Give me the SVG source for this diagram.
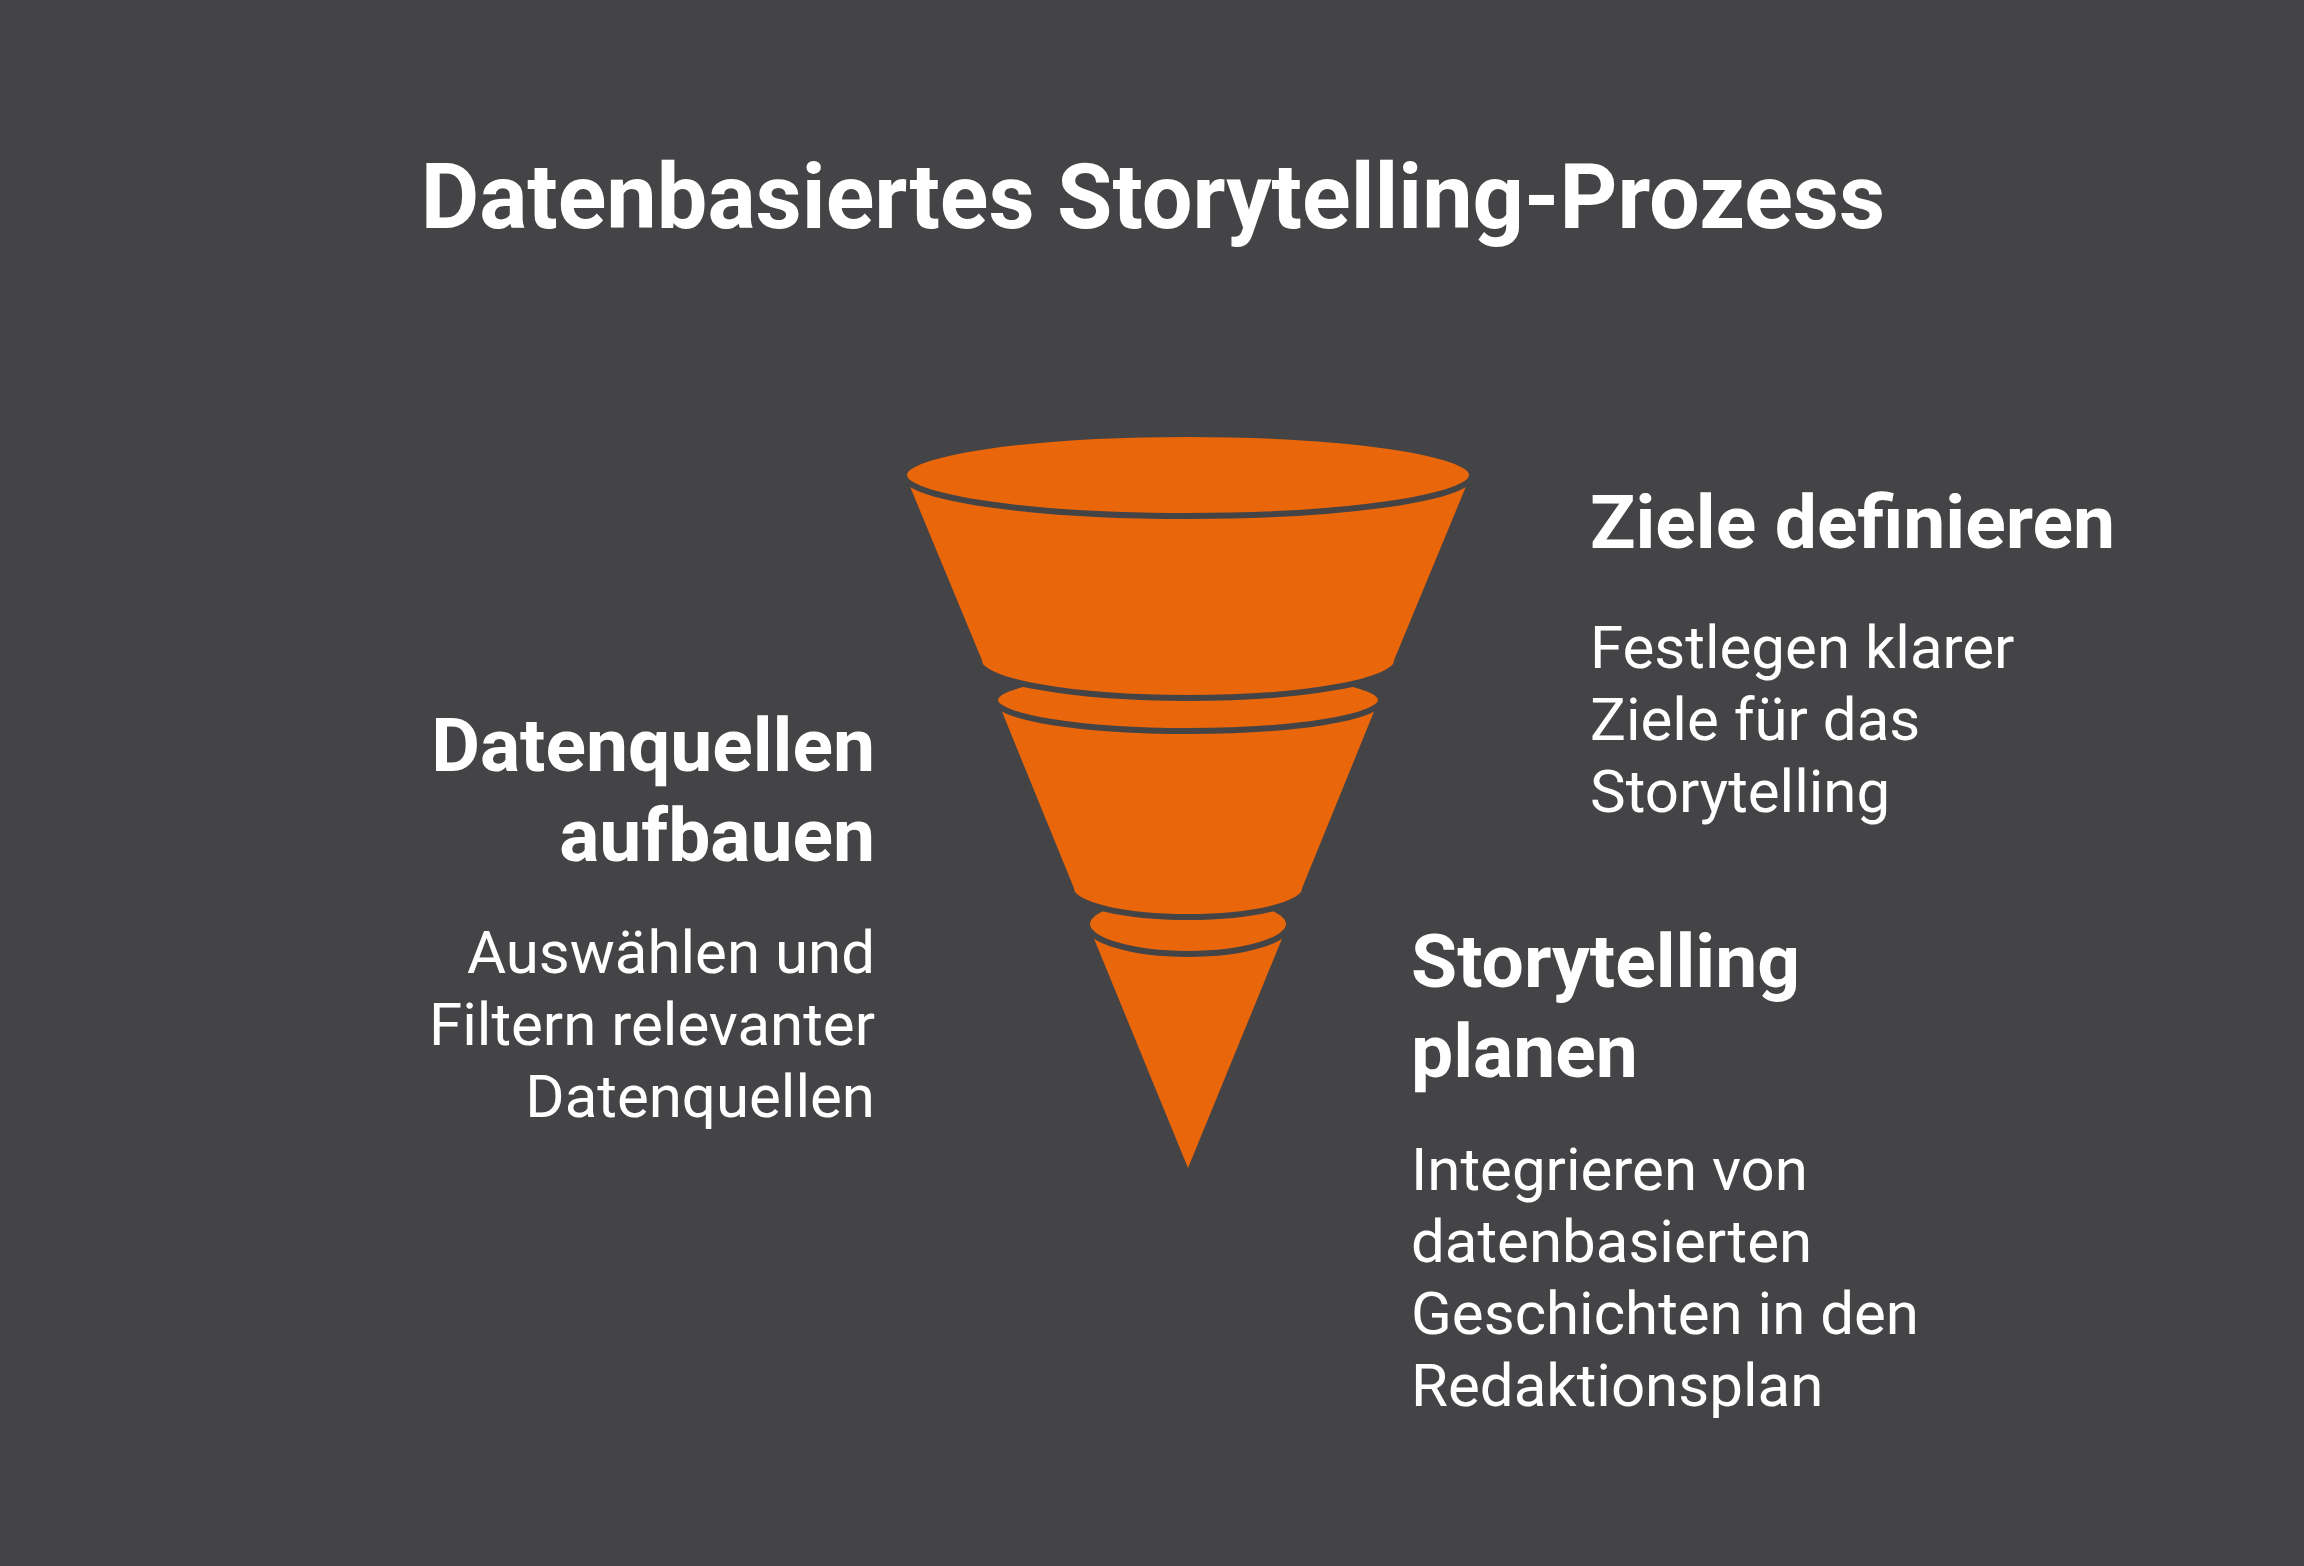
<svg xmlns="http://www.w3.org/2000/svg" width="2304" height="1566" viewBox="0 0 2304 1566">
<style>
.bg{fill:#444446}
.seg{fill:#E9660B;stroke:#444446;stroke-width:6;stroke-linejoin:round}
.tip{fill:#E9660B}
.t{font-family:Roboto,"Liberation Sans",sans-serif;fill:#FFFFFF}
.title{font-size:90px;font-weight:700}
.h{font-size:75px;font-weight:700}
.d{font-size:60px;font-weight:400}
</style>
<rect class="bg" x="0" y="0" width="2304" height="1566"/>
<g id="funnel">
<path class="tip" d="M1088 924 L1288 924 L1188 1168 Z"/>
<ellipse class="seg" cx="1188" cy="924" rx="101" ry="30"/>
<path class="seg" d="M994 700 L1382 700 L1305 889 A117 28 0 0 1 1071 889 Z"/>
<ellipse class="seg" cx="1188" cy="700" rx="193" ry="31"/>
<path class="seg" d="M902 475 L1474 475 L1397 661 A209 37 0 0 1 979 661 Z"/>
<ellipse class="seg" cx="1188" cy="475" rx="284" ry="41"/>
</g>
<g id="title">
<text class="t title" x="1153" y="228" text-anchor="middle">Datenbasiertes Storytelling-Prozess</text>
</g>
<g id="step1">
<text class="t h" x="1590" y="548">Ziele definieren</text>
<text class="t d" x="1590" y="668">Festlegen klarer</text>
<text class="t d" x="1590" y="740">Ziele für das</text>
<text class="t d" x="1590" y="812">Storytelling</text>
</g>
<g id="step2">
<text class="t h" x="875" y="771" text-anchor="end">Datenquellen</text>
<text class="t h" x="875" y="861" text-anchor="end">aufbauen</text>
<text class="t d" x="875" y="973" text-anchor="end">Auswählen und</text>
<text class="t d" x="875" y="1045" text-anchor="end">Filtern relevanter</text>
<text class="t d" x="875" y="1117" text-anchor="end">Datenquellen</text>
</g>
<g id="step3">
<text class="t h" x="1411" y="987">Storytelling</text>
<text class="t h" x="1411" y="1077">planen</text>
<text class="t d" x="1411" y="1190">Integrieren von</text>
<text class="t d" x="1411" y="1262">datenbasierten</text>
<text class="t d" x="1411" y="1334">Geschichten in den</text>
<text class="t d" x="1411" y="1406">Redaktionsplan</text>
</g>
<g id="connectors"/>
</svg>
